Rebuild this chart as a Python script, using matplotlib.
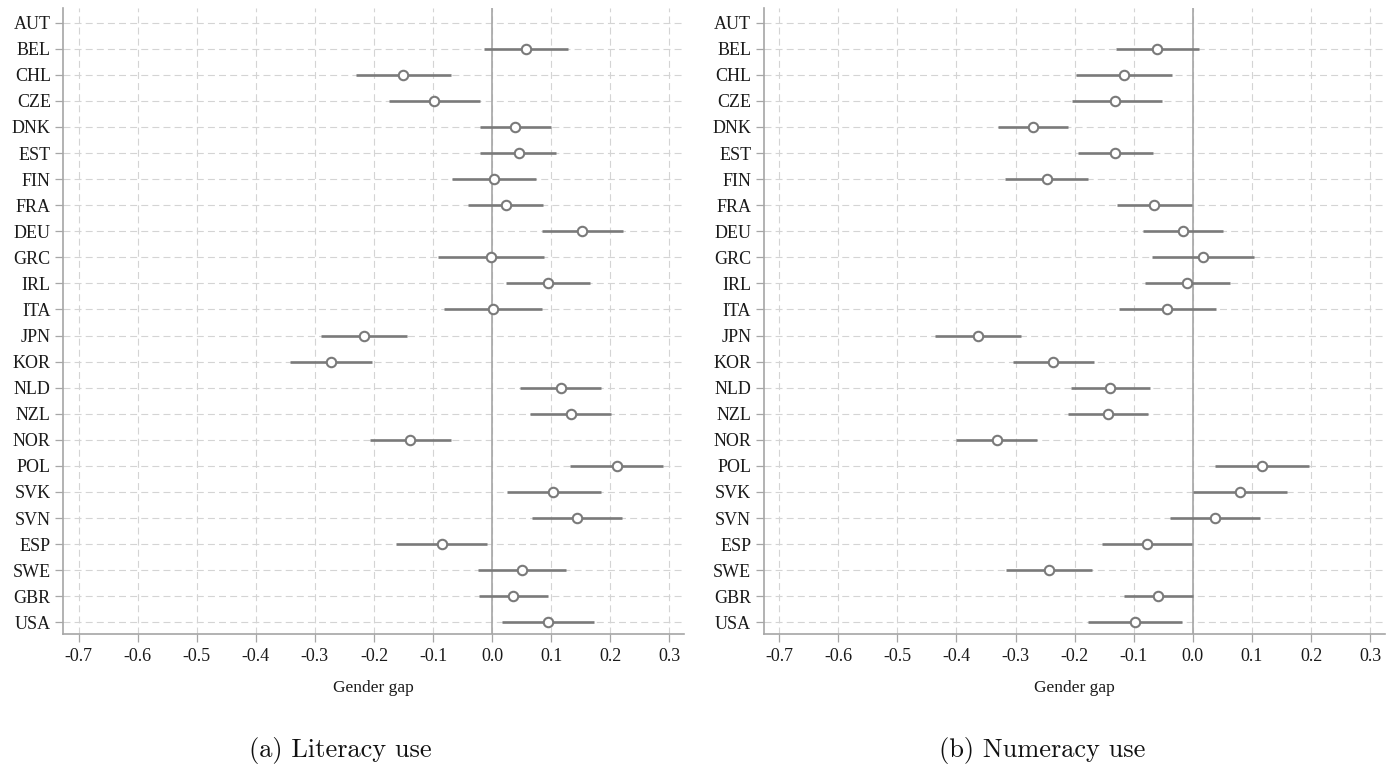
import numpy as np
import matplotlib
matplotlib.use("Agg")
import matplotlib.pyplot as plt

countries = ["AUT", "BEL", "CHL", "CZE", "DNK", "EST", "FIN", "FRA", "DEU", "GRC",
             "IRL", "ITA", "JPN", "KOR", "NLD", "NZL", "NOR", "POL", "SVK", "SVN",
             "ESP", "SWE", "GBR", "USA"]

# Literacy use: point estimate and 95% CI (AUT not estimated)
lit_est = [np.nan, 0.058, -0.150, -0.099, 0.039, 0.045, 0.003, 0.023, 0.153, -0.002,
           0.095, 0.002, -0.217, -0.273, 0.116, 0.134, -0.139, 0.211, 0.104, 0.144,
           -0.085, 0.051, 0.036, 0.094]
lit_lo = [np.nan, -0.014, -0.230, -0.175, -0.020, -0.020, -0.068, -0.041, 0.085, -0.092,
          0.024, -0.082, -0.290, -0.342, 0.048, 0.065, -0.207, 0.132, 0.025, 0.067,
          -0.163, -0.024, -0.022, 0.016]
lit_hi = [np.nan, 0.129, -0.070, -0.021, 0.100, 0.108, 0.075, 0.086, 0.221, 0.088,
          0.166, 0.085, -0.144, -0.203, 0.185, 0.202, -0.070, 0.290, 0.184, 0.220,
          -0.008, 0.125, 0.094, 0.173]

# Numeracy use
num_est = [np.nan, -0.060, -0.116, -0.131, -0.271, -0.132, -0.247, -0.066, -0.017, 0.017,
           -0.010, -0.043, -0.364, -0.236, -0.140, -0.144, -0.332, 0.117, 0.080, 0.038,
           -0.077, -0.243, -0.059, -0.098]
num_lo = [np.nan, -0.130, -0.197, -0.205, -0.330, -0.195, -0.317, -0.129, -0.084, -0.069,
          -0.081, -0.125, -0.436, -0.304, -0.206, -0.211, -0.400, 0.038, 0.000, -0.038,
          -0.153, -0.316, -0.117, -0.178]
num_hi = [np.nan, 0.010, -0.035, -0.053, -0.212, -0.067, -0.177, -0.002, 0.051, 0.104,
          0.062, 0.039, -0.291, -0.168, -0.072, -0.076, -0.263, 0.196, 0.159, 0.114,
          -0.002, -0.170, 0.000, -0.018]

xticks = [-0.7, -0.6, -0.5, -0.4, -0.3, -0.2, -0.1, 0.0, 0.1, 0.2, 0.3]
xticklabels = ["-0.7", "-0.6", "-0.5", "-0.4", "-0.3", "-0.2", "-0.1", "0.0", "0.1", "0.2", "0.3"]
xlabel = "Gender gap"
captions = ["(a) Literacy use", "(b) Numeracy use"]

plt.rcParams["font.family"] = ["Liberation Serif", "DejaVu Serif"]
plt.rcParams["lines.scale_dashes"] = False

W, H = 1396, 768
fig = plt.figure(figsize=(W / 100, H / 100), dpi=100)

spine_col = "#a6a6a6"
grid_col = "#d4d4d4"
mark_col = "#7a7a7a"

ax_boxes = [
    [63.3 / W, (H - 634.3) / H, 620.7 / W, 626.0 / H],
    [763.7 / W, (H - 634.3) / H, 621.3 / W, 626.0 / H],
]
cap_x = [340.5 / W, 1041.8 / W]

for box, est, lo, hi, cap, cx in zip(ax_boxes, [lit_est, num_est], [lit_lo, num_lo],
                                     [lit_hi, num_hi], captions, cap_x):
    ax = fig.add_axes(box)
    y = np.arange(len(countries))
    est = np.array(est, dtype=float)
    lo = np.array(lo, dtype=float)
    hi = np.array(hi, dtype=float)

    ax.set_xlim(-0.726, 0.325)
    ax.set_ylim(len(countries) - 1 + 0.46, -0.55)

    ax.set_xticks(xticks)
    ax.set_xticklabels(xticklabels)
    ax.set_yticks(y)
    ax.set_yticklabels(countries)

    ax.grid(True, axis="both", color=grid_col, linestyle=(0, (5.0, 3.0)), linewidth=0.8)
    ax.set_axisbelow(True)

    ax.axvline(0, color=spine_col, linewidth=1.2, zorder=2)

    ax.hlines(y, lo, hi, color=mark_col, linewidth=1.9, zorder=3)
    ax.plot(est, y, linestyle="none", marker="o", markersize=6.8,
            markerfacecolor="white", markeredgecolor=mark_col, markeredgewidth=1.5,
            zorder=4)

    for s in ["top", "right"]:
        ax.spines[s].set_visible(False)
    for s in ["left", "bottom"]:
        ax.spines[s].set_color(spine_col)
        ax.spines[s].set_linewidth(1.2)

    ax.tick_params(axis="both", colors=spine_col, length=6, width=0.9, labelsize=13,
                   labelcolor="#1a1a1a")
    ax.tick_params(axis="x", pad=4)
    ax.tick_params(axis="y", pad=3)

    ax.set_xlabel(xlabel, fontsize=12.5, color="#1a1a1a", labelpad=11)

    fig.text(cx, (H - 750) / H, cap, ha="center", va="center", fontsize=19,
             family="cmr10", color="#111111")

fig.savefig("out.png", dpi=100)
